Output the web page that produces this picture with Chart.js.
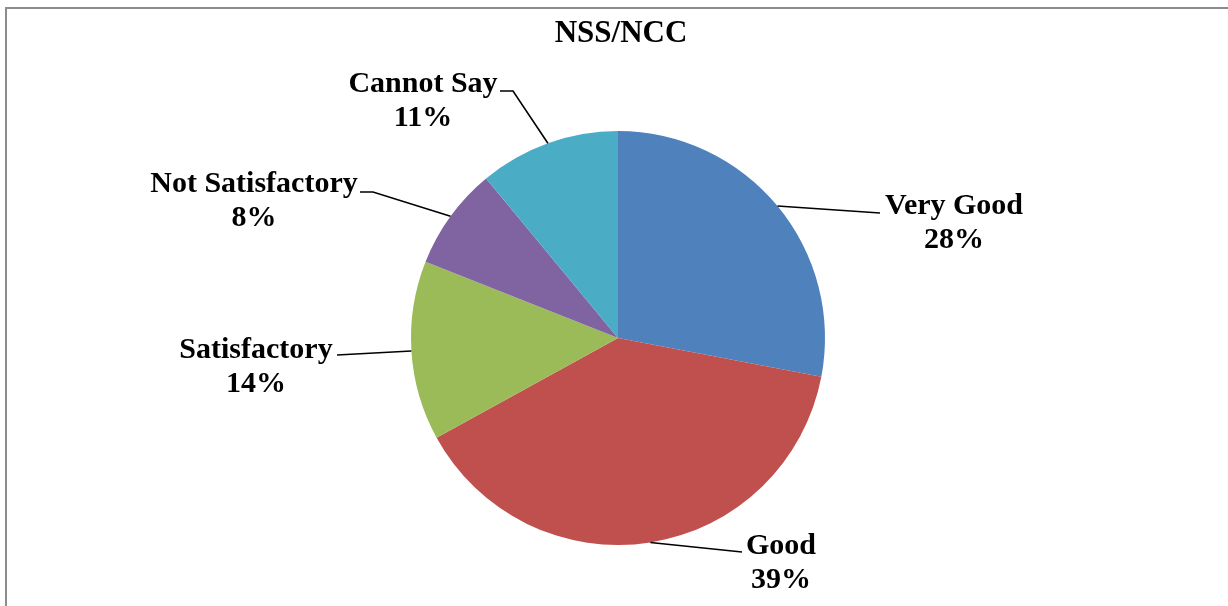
<!DOCTYPE html>
<html>
<head>
<meta charset="utf-8">
<script src="https://cdn.jsdelivr.net/npm/chart.js@4/dist/chart.umd.min.js"></script>
<style>
    html, body { margin: 0; padding: 0; background: #fff; }
    #wrap { position: relative; width: 1228px; height: 606px; }
</style>
</head>
<body>
<div id="wrap"><canvas id="chartPie" width="1228" height="606"></canvas></div>
<script>
// data
var categories = ['Very Good', 'Good', 'Satisfactory', 'Not Satisfactory', 'Cannot Say'];
var percents = [28, 39, 14, 8, 11];
var colors = ['#4F81BD', '#C0504D', '#9BBB59', '#8064A2', '#4BACC6'];

// where each label sits (text centre, first line) and the bend of its leader line
var labelPos = [
    { x: 954, y: 206, bend: null, end: [880, 213] },
    { x: 781, y: 546, bend: null, end: [742, 552] },
    { x: 256, y: 350, bend: null, end: [337, 355] },
    { x: 254, y: 184, bend: [373, 192], end: [360, 192] },
    { x: 423, y: 84, bend: [513, 91], end: [500, 91] }
];

var fontFamily = '"Liberation Serif", "Times New Roman", serif';

var labelPlugin = {
    id: 'pieLabels',
    beforeDraw: function (chart) {
        var ctx = chart.ctx;
        ctx.save();
        ctx.fillStyle = '#8c8c8c';
        ctx.fillRect(5, 7, 2, 606);
        ctx.fillRect(5, 7, 1228, 2);
        ctx.restore();
    },
    afterDraw: function (chart) {
        var ctx = chart.ctx;
        var meta = chart.getDatasetMeta(0);
        ctx.save();
        // title
        ctx.fillStyle = '#000';
        ctx.textAlign = 'center';
        ctx.textBaseline = 'middle';
        ctx.font = 'bold 31px ' + fontFamily;
        ctx.fillText('NSS/NCC', 621, 34);

        meta.data.forEach(function (arc, i) {
            var p = arc.getProps(['x', 'y', 'startAngle', 'endAngle', 'outerRadius'], true);
            var mid = (p.startAngle + p.endAngle) / 2;
            var ax = p.x + Math.cos(mid) * p.outerRadius;
            var ay = p.y + Math.sin(mid) * p.outerRadius;
            var lp = labelPos[i];
            ctx.beginPath();
            ctx.strokeStyle = '#000';
            ctx.lineWidth = 1.6;
            ctx.moveTo(ax, ay);
            if (lp.bend) ctx.lineTo(lp.bend[0], lp.bend[1]);
            ctx.lineTo(lp.end[0], lp.end[1]);
            ctx.stroke();

            ctx.font = 'bold 30px ' + fontFamily;
            ctx.fillText(categories[i], lp.x, lp.y);
            ctx.fillText(percents[i] + '%', lp.x, lp.y + 34);
        });
        ctx.restore();
    }
};

var ctx = document.getElementById('chartPie');
var myPie = new Chart(ctx, {
    type: 'pie',
    data: {
        labels: categories,
        datasets: [{
            data: percents,
            backgroundColor: colors,
            borderWidth: 0
        }]
    },
    options: {
        responsive: false,
        animation: false,
        events: [],
        layout: {
            padding: { left: 411, right: 403, top: 131, bottom: 61 }
        },
        plugins: {
            legend: { display: false },
            tooltip: { enabled: false },
            title: { display: false }
        }
    },
    plugins: [labelPlugin]
});
</script>
</body>
</html>
